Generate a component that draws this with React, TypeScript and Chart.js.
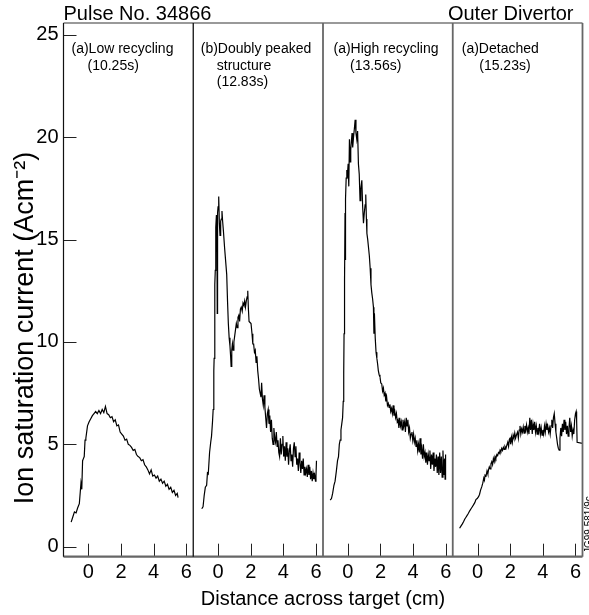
import React, { useEffect, useRef } from "react";
import { Chart, registerables } from "chart.js";

Chart.register(...registerables);

const FONT = "'Liberation Sans', Arial, Helvetica, sans-serif";

// ---- data (cm, A cm^-2) ----
const lowX = [-1.05,-0.95,-0.85,-0.75,-0.65,-0.55,-0.45,-0.4,-0.35,-0.3,-0.25,-0.2,-0.15,-0.05,0.05,0.15,0.25,0.35,0.45,0.55,0.65,0.75,0.85,0.95,1.05,1.15,1.25,1.35,1.45,1.55,1.65,1.75,1.85,1.95,2.05,2.15,2.25,2.35,2.45,2.55,2.65,2.75,2.85,2.95,3.05,3.15,3.25,3.35,3.45,3.55,3.65,3.75,3.85,3.95,4.05,4.15,4.25,4.35,4.45,4.55,4.65,4.75,4.85,4.95,5.05,5.15,5.25,5.35,5.45,5.5];
const lowY = [1.2,1.45,1.7,1.65,1.9,2.1,3.1,2.8,4.2,4.3,4.4,5.2,5.3,5.9,6.1,6.25,6.4,6.5,6.6,6.5,6.65,6.5,6.7,6.55,6.85,6.5,6.45,6.3,6.35,6.1,6.2,5.9,5.95,5.6,5.5,5.4,5.2,5.25,5.0,4.95,4.85,4.7,4.75,4.5,4.4,4.35,4.2,4.25,4.0,3.9,3.75,3.55,3.75,3.45,3.5,3.35,3.45,3.2,3.3,3.1,3.2,2.95,3.05,2.8,2.9,2.65,2.75,2.5,2.6,2.4];

const dblX = [-1.0,-0.92,-0.85,-0.78,-0.7,-0.65,-0.6,-0.52,-0.45,-0.4,-0.34,-0.3,-0.26,-0.24,-0.2,-0.17,-0.14,-0.1,-0.07,-0.05,-0.03,0.0,0.04,0.08,0.12,0.16,0.2,0.24,0.28,0.33,0.4,0.47,0.53,0.58,0.63,0.68,0.73,0.77,0.8,0.84,0.88,0.92,0.97,1.02,1.07,1.12,1.17,1.22,1.27,1.32,1.37,1.42,1.48,1.53,1.58,1.63,1.68,1.73,1.78,1.82,1.86,1.9,1.96,2.02,2.08,2.13,2.18,2.23,2.28,2.33,2.38,2.43,2.48,2.53,2.58,2.63,2.67,2.72,2.77,2.82,2.87,2.92,2.97,3.02,3.07,3.12,3.17,3.22,3.27,3.32,3.37,3.42,3.47,3.52,3.57,3.62,3.67,3.72,3.77,3.82,3.87,3.92,3.97,4.02,4.07,4.12,4.17,4.22,4.27,4.32,4.37,4.42,4.47,4.52,4.57,4.62,4.67,4.72,4.77,4.82,4.87,4.92,4.97,5.02,5.07,5.12,5.17,5.22,5.27,5.32,5.37,5.42,5.47,5.52,5.57,5.62,5.67,5.72,5.77,5.82,5.87,5.92,5.97,6.0,6.03];
const dblY = [1.85,1.95,2.5,2.9,3.0,3.6,3.55,4.6,5.1,5.4,6.1,6.7,8.6,9.2,12.8,13.5,15.6,16.2,15.4,11.4,16.3,16.6,17.1,15.8,15.2,15.9,16.0,16.4,15.9,15.4,14.6,13.9,13.3,12.0,10.9,10.2,9.8,9.3,8.8,9.6,9.9,9.6,10.0,10.3,10.6,10.9,10.7,11.2,11.3,11.0,11.6,11.7,11.5,11.9,11.8,12.0,11.7,12.0,12.2,12.5,11.6,11.0,10.95,10.9,10.4,9.9,9.9,9.5,9.6,9.0,9.3,8.6,8.2,7.7,7.5,7.3,8.0,7.2,6.9,7.4,6.8,6.3,5.8,6.5,6.7,6.0,6.4,5.6,6.2,5.3,5.0,5.8,5.3,5.1,5.6,4.9,5.2,4.6,4.4,5.3,4.5,5.0,5.4,4.4,4.9,4.2,5.1,4.4,4.8,4.0,4.7,5.0,4.2,4.5,3.9,4.8,5.1,4.4,4.9,4.0,4.3,3.7,4.6,4.1,3.6,4.2,3.8,4.3,3.5,3.9,3.6,3.8,3.4,4.0,3.5,3.9,3.3,3.7,3.2,3.6,3.3,3.5,3.2,3.45,4.2];

const highX = [-1.08,-1.0,-0.93,-0.85,-0.78,-0.7,-0.63,-0.57,-0.52,-0.47,-0.42,-0.37,-0.32,-0.28,-0.25,-0.23,-0.2,-0.17,-0.15,-0.13,-0.1,-0.06,-0.02,0.02,0.06,0.1,0.14,0.18,0.22,0.26,0.3,0.35,0.4,0.45,0.5,0.55,0.6,0.65,0.7,0.75,0.8,0.86,0.91,0.96,1.01,1.06,1.1,1.14,1.17,1.22,1.27,1.32,1.37,1.42,1.47,1.52,1.57,1.6,1.63,1.68,1.73,1.78,1.83,1.87,1.92,1.97,2.02,2.08,2.13,2.18,2.23,2.28,2.33,2.38,2.43,2.48,2.53,2.58,2.63,2.68,2.73,2.78,2.83,2.88,2.93,2.98,3.03,3.08,3.13,3.18,3.23,3.28,3.33,3.38,3.43,3.48,3.53,3.58,3.63,3.68,3.73,3.78,3.83,3.88,3.93,3.98,4.03,4.08,4.13,4.18,4.23,4.28,4.33,4.38,4.43,4.48,4.53,4.58,4.63,4.68,4.73,4.78,4.83,4.88,4.93,4.98,5.03,5.08,5.13,5.18,5.23,5.28,5.33,5.38,5.43,5.48,5.53,5.58,5.63,5.68,5.73,5.78,5.83,5.88,5.93,5.96,5.98,6.0];
const highY = [2.28,2.35,2.6,3.0,3.2,3.7,4.2,4.4,5.0,5.2,5.7,6.0,6.3,7.1,8.5,10.4,13.0,16.3,14.0,17.0,18.0,18.4,18.2,18.7,17.6,19.9,18.8,19.4,19.8,20.2,19.5,20.0,20.4,20.85,20.2,19.9,20.3,18.7,18.2,16.9,17.5,17.9,16.6,15.8,16.3,16.7,17.2,16.0,15.3,15.0,14.6,14.2,13.6,12.8,12.4,12.1,11.7,10.4,11.4,10.2,9.5,9.2,8.9,8.6,8.4,8.3,8.0,7.95,7.6,7.75,7.4,7.5,7.1,7.3,6.9,7.0,6.8,6.95,6.6,6.75,6.5,6.9,6.4,6.6,6.3,6.5,6.1,6.2,5.8,6.3,5.9,6.1,5.7,6.2,5.9,6.1,5.6,6.3,5.9,6.2,5.6,5.8,5.3,5.5,5.6,5.2,5.5,5.1,5.3,4.9,5.2,4.7,5.0,4.6,5.3,4.5,4.8,4.3,5.0,4.4,4.6,4.1,4.6,4.0,4.5,4.2,4.7,3.8,4.5,4.0,4.6,3.7,4.3,3.9,4.5,3.6,4.4,3.5,4.6,3.6,4.4,3.4,4.7,3.5,4.3,3.3,4.5,3.6];

const detX = [-1.1,-1.02,-0.94,-0.86,-0.78,-0.7,-0.62,-0.56,-0.48,-0.4,-0.32,-0.25,-0.17,-0.1,-0.02,0.06,0.12,0.18,0.26,0.32,0.38,0.42,0.46,0.52,0.58,0.63,0.67,0.72,0.77,0.82,0.87,0.92,0.97,1.02,1.07,1.12,1.18,1.23,1.28,1.33,1.38,1.43,1.48,1.53,1.58,1.63,1.68,1.74,1.79,1.85,1.9,1.95,1.99,2.03,2.08,2.13,2.18,2.23,2.28,2.33,2.4,2.45,2.5,2.55,2.6,2.65,2.7,2.75,2.8,2.85,2.9,2.95,3.0,3.05,3.1,3.15,3.2,3.25,3.3,3.35,3.4,3.45,3.5,3.55,3.6,3.65,3.7,3.75,3.8,3.85,3.9,3.95,4.0,4.05,4.1,4.15,4.2,4.25,4.3,4.35,4.4,4.45,4.5,4.55,4.6,4.65,4.7,4.75,4.8,4.85,4.9,4.95,5.0,5.05,5.1,5.15,5.2,5.25,5.3,5.35,5.4,5.45,5.5,5.55,5.6,5.65,5.7,5.75,5.8,5.85,5.9,5.95,6.0,6.04,6.07,6.1,6.43];
const detY = [0.9,1.0,1.1,1.22,1.35,1.45,1.55,1.63,1.75,1.85,1.95,2.04,2.15,2.3,2.35,2.44,2.55,2.75,2.93,3.1,3.35,3.25,3.5,3.45,3.7,3.55,3.75,3.9,3.8,4.05,4.15,4.0,4.3,4.15,4.4,4.3,4.5,4.45,4.6,4.55,4.72,4.65,4.8,4.7,4.85,4.75,4.9,4.8,4.95,5.1,4.9,5.25,5.3,5.0,5.35,5.1,5.45,5.3,5.55,5.3,5.5,5.6,5.3,5.7,5.9,5.5,5.75,5.6,5.85,5.55,5.9,5.7,5.95,5.6,5.8,5.5,6.3,5.7,6.2,5.5,6.0,5.7,6.1,5.6,5.9,5.5,5.8,5.6,6.0,5.5,5.8,5.45,5.7,5.5,5.9,5.6,6.0,5.7,5.9,5.6,5.8,5.5,5.9,6.2,5.8,6.3,6.5,6.0,5.6,5.3,5.0,4.8,4.72,5.3,5.8,5.4,6.0,5.6,6.2,5.7,6.1,5.5,5.9,5.4,5.8,6.3,5.6,5.9,5.4,5.7,5.5,6.2,6.5,6.6,6.2,5.1,5.05];

const panelXs = [lowX, dblX, highX, detX];
const panelYs = [lowY, dblY, highY, detY];
const panelLabels = [
  ["(a)Low recycling", "(10.25s)"],
  ["(b)Doubly peaked", "structure", "(12.83s)"],
  ["(a)High recycling", "(13.56s)"],
  ["(a)Detached", "(15.23s)"],
];
const xTicks = [0, 2, 4, 6];
const yTicks = [0, 5, 10, 15, 20, 25];
const X_RANGE = [-1.52, 6.43];
const Y_RANGE = [-0.49, 25.58];
const titleLeft = "Pulse No. 34866";
const titleRight = "Outer Divertor";
const xTitle = "Distance across target (cm)";
const yTitle = "Ion saturation current (Acm\u207B\u00B2)";
const codeText = "JG99.581/9c";

const decor = {
  id: "decor",
  afterDraw(chart: any) {
    const { ctx, chartArea: ca } = chart;
    const xs = [0, 1, 2, 3].map((i) => chart.scales["x" + i]);
    const ys = chart.scales.y;
    ctx.save();
    // tick marks (inward)
    ctx.strokeStyle = "#222";
    ctx.lineWidth = 1;
    ctx.beginPath();
    for (const v of yTicks) {
      const py = Math.round(ys.getPixelForValue(v)) + 0.5;
      ctx.moveTo(ca.left, py);
      ctx.lineTo(ca.left + 13, py);
    }
    for (const s of xs) {
      for (const v of xTicks) {
        const px = Math.round(s.getPixelForValue(v)) + 0.5;
        ctx.moveTo(px, ca.bottom);
        ctx.lineTo(px, ca.bottom - 13);
      }
    }
    ctx.stroke();
    // frame
    ctx.strokeStyle = "#777";
    ctx.lineWidth = 1.6;
    ctx.beginPath();
    ctx.moveTo(ca.left, ca.top);
    ctx.lineTo(ca.right, ca.top);
    ctx.stroke();
    ctx.strokeStyle = "#666";
    ctx.lineWidth = 2.2;
    ctx.beginPath();
    ctx.moveTo(ca.left, ca.bottom);
    ctx.lineTo(ca.right, ca.bottom);
    ctx.stroke();
    ctx.strokeStyle = "#111";
    ctx.lineWidth = 1.2;
    ctx.beginPath();
    ctx.moveTo(ca.left, ca.top);
    ctx.lineTo(ca.left, ca.bottom);
    ctx.stroke();
    xs.forEach((s: any, i: number) => {
      ctx.strokeStyle = i === 0 ? "#111" : "#666";
      ctx.lineWidth = i === 0 ? 1.3 : 1.8;
      ctx.beginPath();
      ctx.moveTo(s.right, ca.top);
      ctx.lineTo(s.right, ca.bottom);
      ctx.stroke();
    });
    // panel labels
    ctx.fillStyle = "#000";
    ctx.font = `14px ${FONT}`;
    ctx.textAlign = "left";
    ctx.textBaseline = "alphabetic";
    const firstOff = [8, 7.5, 10.5, 9];
    const restOff = [24, 23.5, 27, 26.5];
    xs.forEach((s: any, i: number) => {
      panelLabels[i].forEach((t, j) => {
        ctx.fillText(t, s.left + (j === 0 ? firstOff[i] : restOff[i]), ca.top + 30 + j * 16.5);
      });
    });
    // titles
    ctx.font = `20px ${FONT}`;
    ctx.fillText(titleLeft, ca.left, ca.top - 3.5);
    ctx.textAlign = "right";
    ctx.fillText(titleRight, ca.right - 9, ca.top - 3.5);
    ctx.textAlign = "center";
    ctx.fillText(xTitle, (ca.left + ca.right) / 2, 605);
    ctx.save();
    ctx.font = `27px ${FONT}`;
    ctx.translate(33, 328);
    ctx.rotate(-Math.PI / 2);
    ctx.fillText(yTitle, 0, 0);
    ctx.restore();
    ctx.save();
    ctx.font = `10px ${FONT}`;
    ctx.translate(592, 553);
    ctx.rotate(-Math.PI / 2);
    ctx.textAlign = "left";
    ctx.fillText(codeText, 0, 0);
    ctx.restore();
    ctx.restore();
  },
};

export default function App() {
  const ref = useRef<HTMLCanvasElement>(null);
  useEffect(() => {
    if (!ref.current) return;
    const datasets = panelXs.map((xsArr, i) => ({
      data: xsArr.map((x, j) => ({ x, y: panelYs[i][j] })),
      xAxisID: "x" + i,
      yAxisID: "y",
      borderColor: "#000",
      borderWidth: 1.2,
      pointRadius: 0,
      fill: false,
      tension: 0,
    }));
    const scales: any = {
      y: {
        type: "linear",
        position: "left",
        min: Y_RANGE[0],
        max: Y_RANGE[1],
        afterBuildTicks: (s: any) => {
          s.ticks = yTicks.map((v) => ({ value: v }));
        },
        afterFit: (s: any) => {
          s.width = 63.5;
        },
        grid: { display: false, drawTicks: false },
        border: { display: false },
        ticks: { color: "#000", font: { family: FONT, size: 20 }, padding: 5 },
      },
    };
    for (let i = 0; i < 4; i++) {
      scales["x" + i] = {
        type: "linear",
        position: "bottom",
        stack: "panels",
        stackWeight: 1,
        min: X_RANGE[0],
        max: X_RANGE[1],
        afterBuildTicks: (s: any) => {
          s.ticks = xTicks.map((v) => ({ value: v }));
        },
        afterFit: (s: any) => {
          s.height = 58.3;
        },
        grid: { display: false, drawTicks: false },
        border: { display: false },
        ticks: {
          color: "#000",
          font: { family: FONT, size: 20 },
          padding: 4,
          maxRotation: 0,
          autoSkip: false,
          callback: (v: any) => String(v),
        },
      };
    }
    const chart = new Chart(ref.current, {
      type: "line",
      data: { datasets },
      options: {
        responsive: false,
        animation: false,
        layout: { padding: { left: 0, right: 6.5, top: 23, bottom: 0 } },
        plugins: { legend: { display: false }, tooltip: { enabled: false }, title: { display: false } },
        scales,
      },
      plugins: [decor],
    });
    return () => chart.destroy();
  }, []);
  return (
    <div style={{ position: "absolute", left: 0, top: 0, width: 589, height: 615, background: "#fff" }}>
      <canvas ref={ref} width={589} height={615} style={{ display: "block" }} />
    </div>
  );
}
